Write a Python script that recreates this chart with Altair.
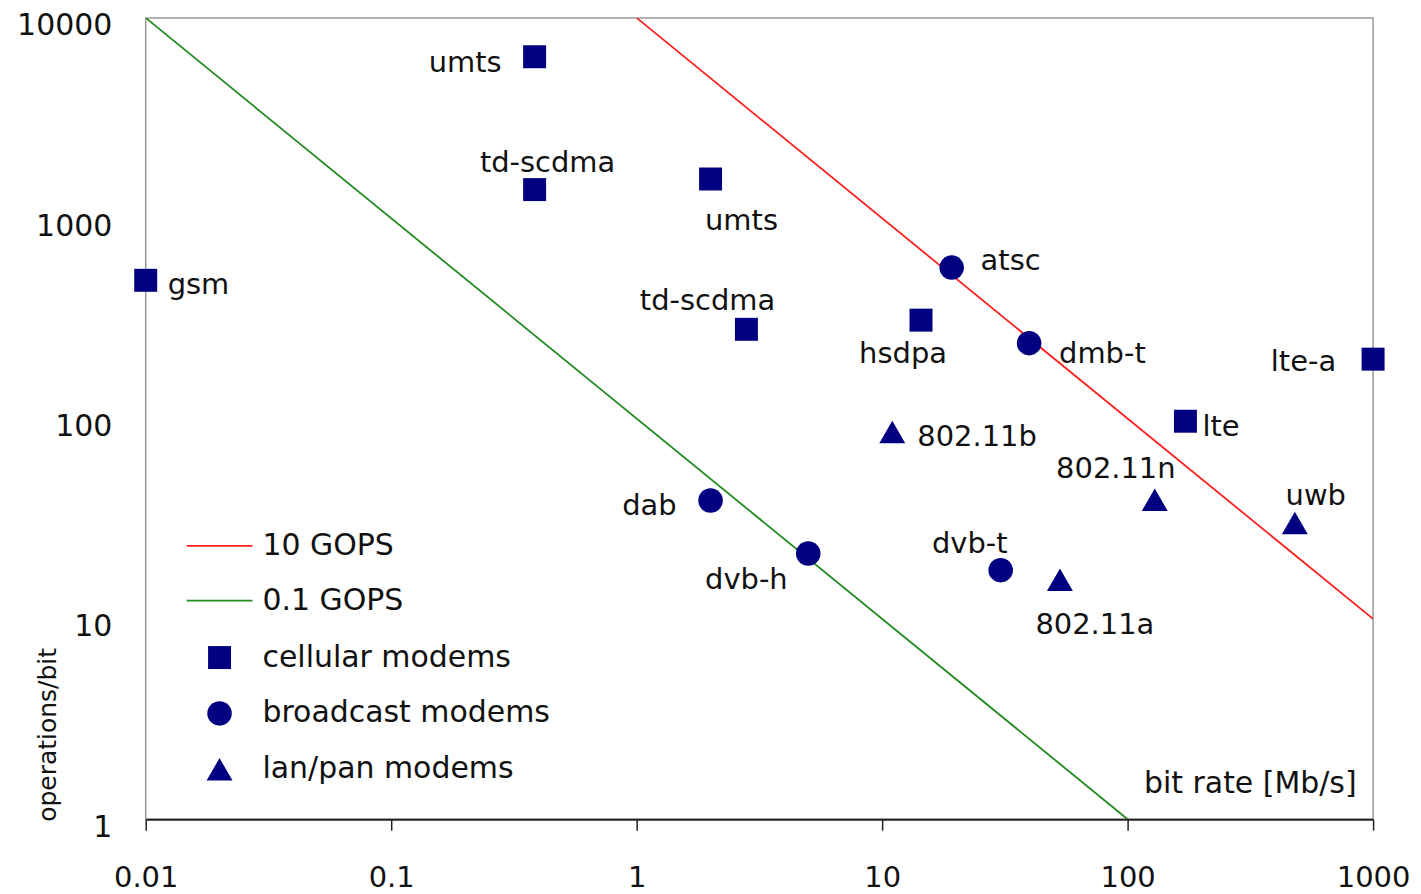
import altair as alt
import pandas as pd

# ---------------- data ----------------
names = ["gsm", "umts", "td-scdma", "umts", "td-scdma", "hsdpa", "lte", "lte-a",
         "atsc", "dmb-t", "dab", "dvb-h", "dvb-t",
         "802.11b", "802.11n", "uwb", "802.11a"]
bit_rate = [0.01, 0.384, 0.384, 2.0, 2.8, 14.4, 172, 1000,
            19.2, 39.7, 2.0, 5.0, 30.4,
            11, 129, 480, 53]
ops_per_bit = [490, 6400, 1390, 1570, 279, 310, 97, 198,
               567, 238, 39, 21.2, 17.5,
               85.7, 39.3, 30.1, 15.7]
modem_type = (["cellular modems"] * 8 + ["broadcast modems"] * 5
              + ["lan/pan modems"] * 4)

line_series = ["10 GOPS", "10 GOPS", "0.1 GOPS", "0.1 GOPS"]
line_rate = [1, 1000, 0.01, 100]
line_ops = [10000, 10, 10000, 1]

x_ticks = [0.01, 0.1, 1, 10, 100, 1000]
y_ticks = [1, 10, 100, 1000, 10000]

type_order = ["cellular modems", "broadcast modems", "lan/pan modems"]
line_order = ["10 GOPS", "0.1 GOPS"]

# ---------------- styling (label placement relative to its point, same order as names) ----------------
label_style = [
    ("left", 22, 5),      # gsm
    ("right", -33, 6),    # umts
    ("center", 13, -27),  # td-scdma
    ("center", 31, 42),   # umts
    ("center", -39, -28), # td-scdma
    ("center", -18, 34),  # hsdpa
    ("left", 17, 6),      # lte
    ("right", -37, 3),    # lte-a
    ("left", 29, -7),     # atsc
    ("left", 30, 11),     # dmb-t
    ("right", -34, 6),    # dab
    ("center", -62, 27),  # dvb-h
    ("center", -31, -26), # dvb-t
    ("left", 25, 5),      # 802.11b
    ("center", -39, -31), # 802.11n
    ("center", 21, -27),  # uwb
    ("center", 35, 45),   # 802.11a
]

FONT = "DejaVu Sans"
NAVY = "#000080"
TXT = "#111111"

pts = pd.DataFrame({"idx": range(len(names)), "name": names, "rate": bit_rate,
                    "ops": ops_per_bit, "type": modem_type})
lines = pd.DataFrame({"series": line_series, "rate": line_rate, "ops": line_ops})

xscale = alt.Scale(type="log", domain=[0.01, 1000], nice=False)
yscale = alt.Scale(type="log", domain=[1, 10000], nice=False)

xaxis = alt.Axis(values=x_ticks, format="~g", grid=False, title="bit rate [Mb/s]",
                 titleX=1213, titleY=-36, titleAlign="right", titleBaseline="middle",
                 titleFont=FONT, titleFontSize=30, titleFontWeight="normal", titleColor=TXT,
                 labelFont=FONT, labelFontSize=29, labelColor=TXT, labelFlush=False,
                 labelPadding=33, tickSize=11, tickColor="#222222", tickWidth=1.5,
                 domainColor="#222222", domainWidth=2)
yaxis = alt.Axis(values=y_ticks, format="~g", grid=False, title="operations/bit",
                 titleX=-98, titleY=718, titleAngle=270, titleAlign="center",
                 titleBaseline="middle", titleFont=FONT, titleFontSize=25,
                 titleFontWeight="normal", titleColor=TXT,
                 labelFont=FONT, labelFontSize=30, labelColor=TXT, labelFlush=False,
                 labelPadding=34, labelOffset=8, ticks=False, tickSize=0, domain=False)

leg_common = dict(title=None, orient="none", labelFont=FONT, labelFontSize=30,
                  labelColor=TXT, labelLimit=500, rowPadding=25, padding=0,
                  labelOffset=28)

line_layer = alt.Chart(lines).mark_line(strokeWidth=1.8, clip=True).encode(
    x=alt.X("rate:Q", scale=xscale, axis=xaxis),
    y=alt.Y("ops:Q", scale=yscale, axis=yaxis),
    color=alt.Color("series:N",
                    scale=alt.Scale(domain=line_order, range=["#ff2020", "#228b22"]),
                    legend=alt.Legend(legendX=59, legendY=514,
                                      symbolType="M-2.54,0L2.54,0", symbolSize=676,
                                      symbolStrokeWidth=1.8, **leg_common)),
    detail="series:N",
)

shape_leg = alt.Legend(legendX=59, legendY=626, **leg_common)
point_layer = alt.Chart(pts).mark_point(filled=True, opacity=1, color=NAVY).encode(
    x=alt.X("rate:Q", scale=xscale),
    y=alt.Y("ops:Q", scale=yscale),
    shape=alt.Shape("type:N",
                    scale=alt.Scale(domain=type_order,
                                    range=["square", "circle", "triangle-up"]),
                    legend=shape_leg),
    size=alt.Size("type:N",
                  scale=alt.Scale(domain=type_order, range=[530, 676, 380]),
                  legend=shape_leg),
)

text_layers = []
for i, (al, dx, dy) in enumerate(label_style):
    text_layers.append(
        alt.Chart(pts).transform_filter(alt.datum.idx == i)
        .mark_text(align=al, baseline="middle", dx=dx, dy=dy, font=FONT,
                   fontSize=29, color=TXT)
        .encode(x=alt.X("rate:Q", scale=xscale), y=alt.Y("ops:Q", scale=yscale),
                text="name:N")
    )

chart = alt.layer(line_layer, point_layer, *text_layers).properties(
    width=1230, height=803,
    autosize=alt.AutoSizeParams(type="none"),
    padding={"left": 138, "top": 9, "right": 40, "bottom": 74},
).configure_view(stroke="#999999", strokeWidth=1.5).configure_axis(grid=False)

chart.save("out.html", embed_options={"renderer": "svg", "actions": False})
